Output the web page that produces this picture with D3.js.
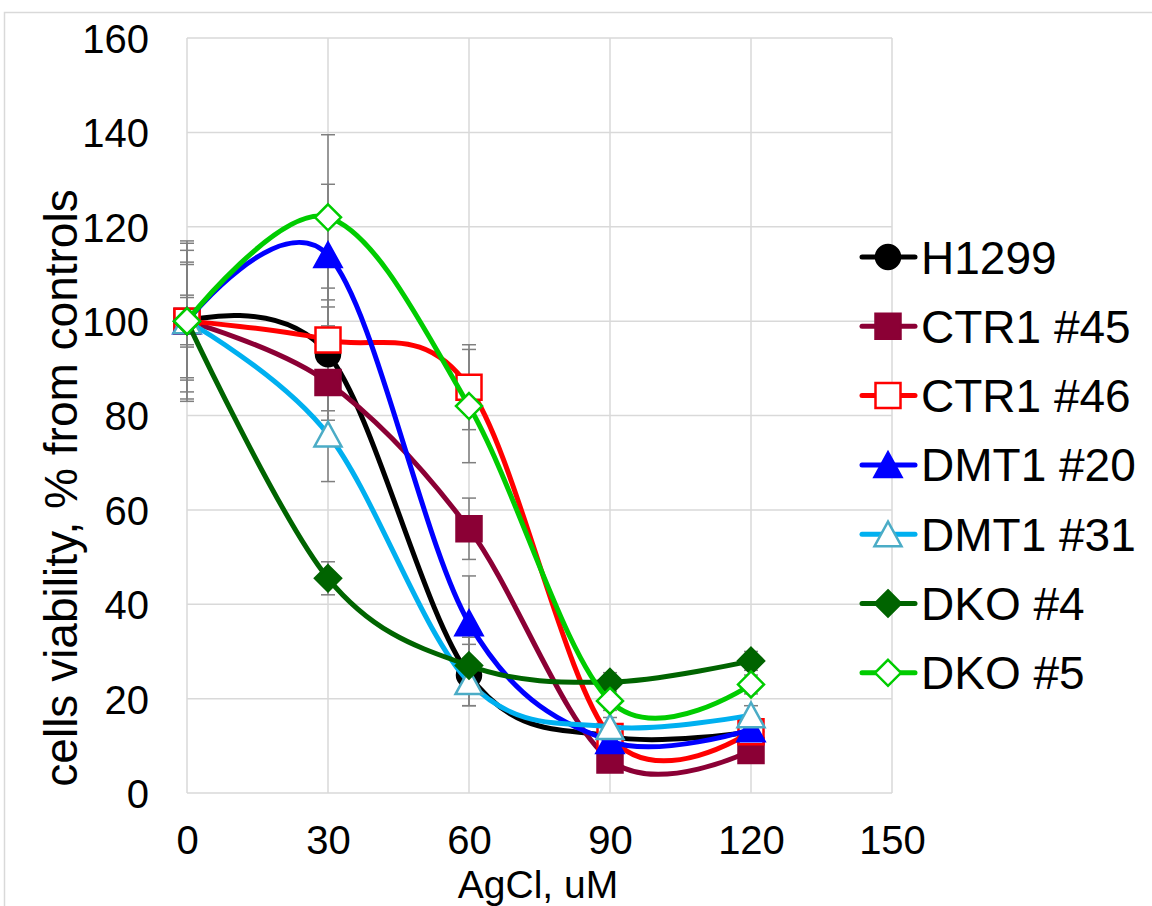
<!DOCTYPE html>
<html>
<head>
<meta charset="utf-8">
<script src="https://cdn.jsdelivr.net/npm/d3@7"></script>
<style>
  html, body {
    margin: 0;
    padding: 0;
    background: #ffffff;
  }
  svg text {
    font-family: "Liberation Sans", Arial, sans-serif;
    fill: #000000;
  }
</style>
</head>
<body>
<div id="vis"></div>
<script>
// doses on the x axis
var doses = [0, 30, 60, 90, 120]
var xTicks = [0, 30, 60, 90, 120, 150]
var yTicks = [0, 20, 40, 60, 80, 100, 120, 140, 160]

var seriesNames = ["H1299", "CTR1 #45", "CTR1 #46", "DMT1 #20", "DMT1 #31", "DKO #4", "DKO #5"]

// viability values, % of control
var h1299 = [100, 93, 25, 12, 13]
var ctr1_45 = [100, 87, 56, 7, 9]
var ctr1_46 = [100, 96, 86, 12, 13]
var dmt1_20 = [100, 114, 36, 11, 13.5]
var dmt1_31 = [100, 76, 23.5, 14, 16.5]
var dko_4 = [100, 45.5, 27, 23.5, 28]
var dko_5 = [100, 122, 82, 19.5, 23]

// error bar half-widths
var h1299Err = [15, 14, 6.5, 2, 2]
var ctr1_45Err = [12.5, 6, 6.5, 2, 2]
var ctr1_46Err = [5, 7, 9, 2, 2]
var dmt1_20Err = [16.5, 15, 10, 2, 2]
var dmt1_31Err = [12, 10, 5, 2, 2]
var dko_4Err = [5.5, 3.5, 6, 2, 2]
var dko_5Err = [17, 17.5, 12, 2, 2]

var seriesValues = [h1299, ctr1_45, ctr1_46, dmt1_20, dmt1_31, dko_4, dko_5]
var seriesErrors = [h1299Err, ctr1_45Err, ctr1_46Err, dmt1_20Err, dmt1_31Err, dko_4Err, dko_5Err]

// look of each series: line colour, marker shape, marker fill, marker stroke
var styles = [
    { color: "#000000", shape: "circle",   fill: "#000000", stroke: "#000000" },
    { color: "#8B0035", shape: "square",   fill: "#8B0035", stroke: "#8B0035" },
    { color: "#FF0000", shape: "square",   fill: "#FFFFFF", stroke: "#FF0000" },
    { color: "#0000FF", shape: "triangle", fill: "#0000FF", stroke: "#0000FF" },
    { color: "#00B0F0", shape: "triangle", fill: "#FFFFFF", stroke: "#4BACC6" },
    { color: "#006400", shape: "diamond",  fill: "#006400", stroke: "#006400" },
    { color: "#00CC00", shape: "diamond",  fill: "#FFFFFF", stroke: "#00CC00" }
]

var width = 1152, height = 906
var plot = { left: 187, right: 892, top: 38, bottom: 793 }

var svg = d3.select("#vis")
    .append("svg")
    .attr("width", width)
    .attr("height", height)

// outer chart frame
svg.append("rect")
    .attr("x", 4.5)
    .attr("y", 12.5)
    .attr("width", width + 10)
    .attr("height", height + 10)
    .attr("fill", "none")
    .attr("stroke", "#d9d9d9")
    .attr("stroke-width", 1.5)

var x = d3.scaleLinear().domain([0, 150]).range([plot.left, plot.right])
var y = d3.scaleLinear().domain([0, 160]).range([plot.bottom, plot.top])

// gridlines
svg.append("g")
    .selectAll("line")
    .data(xTicks)
    .enter()
    .append("line")
    .attr("x1", function (d) { return x(d) })
    .attr("x2", function (d) { return x(d) })
    .attr("y1", y(0))
    .attr("y2", y(160))
    .attr("stroke", "#d9d9d9")
    .attr("stroke-width", 1.5)

svg.append("g")
    .selectAll("line")
    .data(yTicks)
    .enter()
    .append("line")
    .attr("x1", x(0))
    .attr("x2", x(150))
    .attr("y1", function (d) { return y(d) })
    .attr("y2", function (d) { return y(d) })
    .attr("stroke", "#d9d9d9")
    .attr("stroke-width", 1.5)

// axes (labels only, lines come from the grid)
var xAxis = svg.append("g")
    .attr("transform", "translate(0," + plot.bottom + ")")
    .call(d3.axisBottom(x).tickValues(xTicks).tickSize(0).tickPadding(33))
xAxis.select(".domain").remove()
xAxis.selectAll("text")
    .attr("font-size", "40px")
    .attr("fill", "#000")

var yAxis = svg.append("g")
    .attr("transform", "translate(" + plot.left + ",0)")
    .call(d3.axisLeft(y).tickValues(yTicks).tickSize(0).tickPadding(38))
yAxis.select(".domain").remove()
yAxis.selectAll("text")
    .attr("font-size", "40px")
    .attr("fill", "#000")
    .attr("dy", "0.36em")

svg.selectAll(".tick text").style("font-family", "'Liberation Sans', Arial, sans-serif")

// axis titles
svg.append("text")
    .attr("x", 538)
    .attr("y", 897.5)
    .attr("text-anchor", "middle")
    .attr("font-size", "39px")
    .text("AgCl, uM")

svg.append("text")
    .attr("transform", "translate(77,488) rotate(-90)")
    .attr("text-anchor", "middle")
    .attr("font-size", "46px")
    .text("cells viability, % from controls")

function markerPath(shape) {
    if (shape == "circle") return d3.symbol().type(d3.symbolCircle).size(Math.PI * 12 * 12)()
    if (shape == "square") return "M-12.5,-12.5H12.5V12.5H-12.5Z"
    if (shape == "triangle") return "M0,-12.5L13.5,12L-13.5,12Z"
    return "M0,-13L13,0L0,13L-13,0Z"
}

var line = d3.line()
    .x(function (d) { return x(d.dose) })
    .y(function (d) { return y(d.value) })
    .curve(d3.curveCardinal.tension(0))

var rows = seriesValues.map(function (vals, i) {
    return vals.map(function (v, j) {
        return { dose: doses[j], value: v, err: seriesErrors[i][j] }
    })
})

// error bars behind everything
var errG = svg.append("g")
rows.forEach(function (pts) {
    pts.forEach(function (p) {
        var cx = x(p.dose)
        errG.append("line")
            .attr("x1", cx).attr("x2", cx)
            .attr("y1", y(p.value - p.err)).attr("y2", y(p.value + p.err))
            .attr("stroke", "#7f7f7f").attr("stroke-width", 1.5)
        ;[p.value - p.err, p.value + p.err].forEach(function (v) {
            errG.append("line")
                .attr("x1", cx - 7).attr("x2", cx + 7)
                .attr("y1", y(v)).attr("y2", y(v))
                .attr("stroke", "#7f7f7f").attr("stroke-width", 1.5)
        })
    })
})

// each series: line then its markers
rows.forEach(function (pts, i) {
    var st = styles[i]
    var g = svg.append("g")
    g.append("path")
        .datum(pts)
        .attr("d", line)
        .attr("fill", "none")
        .attr("stroke", st.color)
        .attr("stroke-width", 5)
        .attr("stroke-linejoin", "round")
        .attr("stroke-linecap", "round")

    g.selectAll(".marker")
        .data(pts)
        .enter()
        .append("path")
        .attr("class", "marker")
        .attr("transform", function (d) { return "translate(" + x(d.dose) + "," + y(d.value) + ")" })
        .attr("d", markerPath(st.shape))
        .attr("fill", st.fill)
        .attr("stroke", st.stroke)
        .attr("stroke-width", 2.5)
})

// legend
var legend = svg.append("g")
seriesNames.forEach(function (name, i) {
    var st = styles[i]
    var ly = 257 + i * 69.3
    legend.append("line")
        .attr("x1", 862).attr("x2", 915)
        .attr("y1", ly).attr("y2", ly)
        .attr("stroke", st.color)
        .attr("stroke-width", 5)
        .attr("stroke-linecap", "round")
    legend.append("path")
        .attr("transform", "translate(888," + ly + ")")
        .attr("d", markerPath(st.shape))
        .attr("fill", st.fill)
        .attr("stroke", st.stroke)
        .attr("stroke-width", 2.5)
    legend.append("text")
        .attr("x", 921)
        .attr("y", ly)
        .attr("dy", "0.36em")
        .attr("font-size", "46px")
        .text(name)
})
</script>
</body>
</html>
